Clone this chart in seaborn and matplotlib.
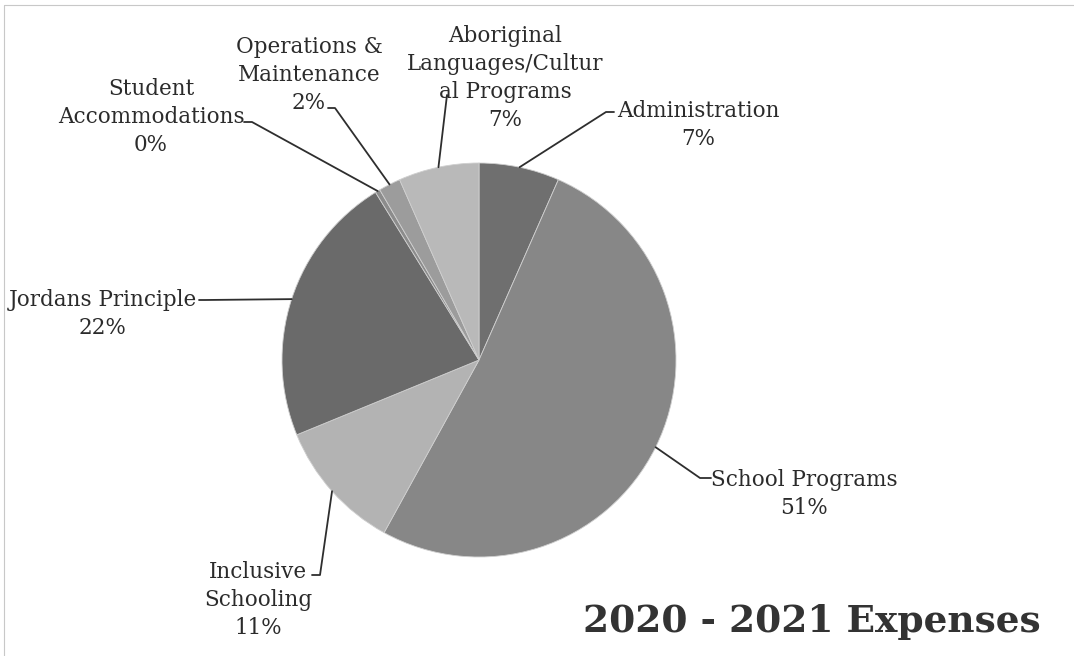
import numpy as np
import seaborn as sns
from matplotlib import pyplot as plt

# slices, clockwise from 12 o'clock
categories = ['Administration', 'School Programs', 'Inclusive Schooling', 'Jordans Principle',
              'Student Accommodations', 'Operations & Maintenance',
              'Aboriginal Languages/Cultural Programs']
shares = [6.6, 51.4, 10.8, 22.4, 0.4, 1.8, 6.6]
label_text = ['Administration\n7%', 'School Programs\n51%', 'Inclusive\nSchooling\n11%',
              'Jordans Principle\n22%', 'Student\nAccommodations\n0%',
              'Operations &\nMaintenance\n2%', 'Aboriginal\nLanguages/Cultur\nal Programs\n7%']
greys = ['#6f6f6f', '#878787', '#b3b3b3', '#6a6a6a', '#8c8c8c', '#9c9c9c', '#b9b9b9']

# label block centres (pixels) and leader line elbows (pixels)
W, H = 1074, 656
cx, cy, R = 479, 360, 197
label_pos = [(698, 125), (804, 494), (258, 600), (103, 314), (151, 117), (309, 75), (505, 78)]
elbow = [(606, 112), (700, 478), (320, 575), (205, 300), (252, 122), (335, 108), (447, 95)]
tail = [(614, 112), (711, 478), (312, 575), (199, 300), (244, 122), (328, 108), (447, 95)]

sns.set_theme(style='white')
plt.rcParams['font.family'] = ['DejaVu Serif']

fig = plt.figure(figsize=(W / 100, H / 100), dpi=100)
fig.patch.set_facecolor('white')
ax = fig.add_axes([(cx - R) / W, (H - cy - R) / H, 2 * R / W, 2 * R / H])

wedges, _ = ax.pie(shares, colors=sns.color_palette(greys), startangle=90, counterclock=False,
                   radius=1, wedgeprops=dict(edgecolor='#cfcfcf', linewidth=0.6))
ax.set_xlim(-1, 1)
ax.set_ylim(-1, 1)
ax.set_aspect('equal')


def to_data(p):
    return ((p[0] - cx) / R, (cy - p[1]) / R)


for w, txt, lp, el, tl in zip(wedges, label_text, label_pos, elbow, tail):
    mid = np.deg2rad((w.theta1 + w.theta2) / 2)
    start = (np.cos(mid), np.sin(mid))
    e = to_data(el)
    t = to_data(tl)
    ax.plot([start[0], e[0], t[0]], [start[1], e[1], t[1]], color='#2e2e2e', lw=1.3, clip_on=False)
    x, y = to_data(lp)
    ax.text(x, y, txt, ha='center', va='center', fontsize=15.5, color='#2b2b2b',
            linespacing=1.35, clip_on=False)

fig.text(812 / W, 1 - 622 / H, '2020 - 2021 Expenses', ha='center', va='center',
         fontsize=27, fontweight='bold', color='#333333', family='DejaVu Serif')

# faint scan border
fig.add_artist(plt.Line2D([4 / W, 1], [1 - 5 / H, 1 - 5 / H], color='#c8c8c8', lw=0.8))
fig.add_artist(plt.Line2D([4 / W, 4 / W], [0, 1 - 5 / H], color='#c8c8c8', lw=0.8))

plt.savefig('out.png', dpi=100)
